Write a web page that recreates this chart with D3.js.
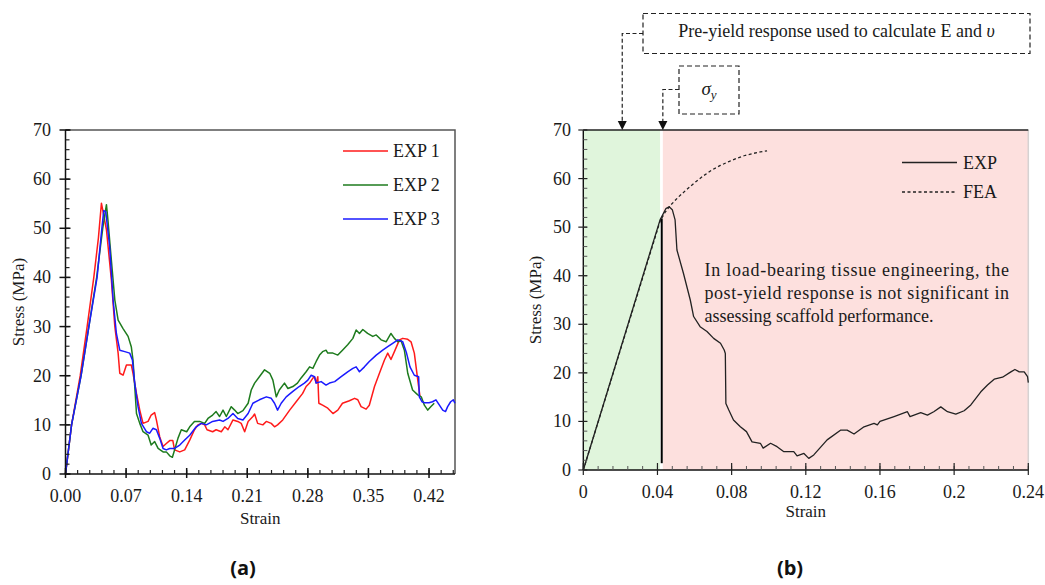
<!DOCTYPE html>
<html><head><meta charset="utf-8">
<script src="https://cdn.jsdelivr.net/npm/d3@7"></script>
<style>
html,body{margin:0;padding:0;background:#fff;}
</style></head>
<body><svg id="c" width="1045" height="585" font-family="Liberation Serif, DejaVu Serif, serif"></svg>
<script>
// ---------- DATA ----------
// Panel (a)
const xTicksA = [0, 0.07, 0.14, 0.21, 0.28, 0.35, 0.42];
const yTicksA = [0, 10, 20, 30, 40, 50, 60, 70];
const seriesNamesA = ["EXP 1", "EXP 2", "EXP 3"];
const exp1 = [[0,0],[0.007,10],[0.017,20],[0.025,30],[0.0327,40],[0.038,48],[0.0415,55.1],[0.0473,49.7],[0.053,39.5],[0.057,30],[0.0608,24.6],[0.0627,20.5],[0.0665,20.1],[0.0704,22.2],[0.076,22.2],[0.078,20.5],[0.082,16.4],[0.0858,13],[0.0896,10.3],[0.0954,10.7],[0.099,12],[0.103,12.5],[0.105,11],[0.1088,7.6],[0.1127,5.6],[0.1165,6.2],[0.1204,6.8],[0.124,6.8],[0.126,4.9],[0.132,4.5],[0.1377,4.9],[0.1435,6.9],[0.149,9],[0.153,10],[0.157,10.3],[0.1608,10],[0.1635,9],[0.17,8.6],[0.174,9],[0.18,8.6],[0.184,9.6],[0.1877,9],[0.1935,11],[0.199,10.7],[0.203,10.3],[0.207,8.6],[0.211,10.7],[0.2165,11.7],[0.2185,12.2],[0.222,10.3],[0.228,10],[0.232,10.7],[0.2377,10.3],[0.2415,9.6],[0.245,10],[0.251,11],[0.259,13],[0.2665,14.7],[0.274,16.4],[0.278,17.8],[0.282,18.5],[0.2858,19.5],[0.2877,19.8],[0.2896,18.5],[0.2915,19.8],[0.2927,14.4],[0.297,14],[0.303,13.4],[0.309,12.3],[0.3146,13],[0.32,14.4],[0.328,14.9],[0.334,15.4],[0.3377,15.1],[0.3415,13.7],[0.3473,13.2],[0.351,14],[0.357,17.8],[0.3627,20.5],[0.3685,23.2],[0.3723,24.6],[0.376,23.3],[0.38,24.9],[0.3858,27.3],[0.3896,27.6],[0.3954,27.4],[0.3992,26.9],[0.403,24.6],[0.407,19.1],[0.4096,15.7]];
const exp2 = [[0,0],[0.007,10],[0.018,20],[0.027,30],[0.036,40],[0.043,50],[0.0473,54.8],[0.049,51.7],[0.053,43.5],[0.057,35.4],[0.0608,31.3],[0.0665,29.6],[0.0723,28],[0.076,25.9],[0.078,23.2],[0.08,17.8],[0.082,12.3],[0.0858,10.3],[0.0896,8.6],[0.0954,7.9],[0.099,5.9],[0.103,6.6],[0.107,5.2],[0.1127,4.5],[0.1165,4.5],[0.1204,3.7],[0.1235,3.4],[0.126,4.9],[0.13,7.3],[0.1338,9],[0.14,8.6],[0.1435,9.6],[0.149,10.7],[0.155,10.7],[0.1608,10.3],[0.1646,11.3],[0.17,12],[0.174,12.7],[0.178,11.7],[0.182,13],[0.1858,11.7],[0.1915,13.7],[0.1954,13],[0.199,12.3],[0.205,12.9],[0.211,14.4],[0.2146,17.1],[0.2185,18.5],[0.224,19.8],[0.23,21.2],[0.236,20.5],[0.2396,19.1],[0.2435,15.7],[0.247,17.1],[0.253,18.5],[0.257,17.4],[0.2627,17.8],[0.268,18.5],[0.272,19.5],[0.278,20.8],[0.282,21.8],[0.2858,21.5],[0.2896,22.9],[0.2935,24.2],[0.297,24.9],[0.301,25.2],[0.303,24.6],[0.309,24.6],[0.3146,24.2],[0.32,25.2],[0.326,26.3],[0.332,27.6],[0.3358,29.3],[0.3396,28.6],[0.3435,29.4],[0.349,28.6],[0.355,28],[0.359,28.3],[0.3646,27.3],[0.3704,26.9],[0.376,28.6],[0.38,27.6],[0.384,26.9],[0.3877,27.1],[0.3915,25.2],[0.3954,20.5],[0.401,17.1],[0.407,16.1],[0.411,15.7],[0.4146,14],[0.4185,13],[0.422,13.7],[0.426,14.4]];
const exp3 = [[0,0],[0.007,10],[0.018,20],[0.027,30],[0.0365,40],[0.042,50],[0.0442,53.6],[0.0465,53.4],[0.051,46.3],[0.055,35.4],[0.0588,28.6],[0.0627,25.2],[0.0685,24.9],[0.0742,24.6],[0.0773,23.2],[0.08,18.5],[0.0838,13.7],[0.0877,10.3],[0.0935,8.6],[0.0973,8.3],[0.101,9.3],[0.105,9],[0.1088,7.3],[0.1127,5.2],[0.1165,4.9],[0.1204,5.2],[0.126,5.2],[0.132,5.9],[0.1377,6.9],[0.1435,7.9],[0.151,9.6],[0.157,10.3],[0.1627,10],[0.17,10.7],[0.178,11],[0.182,10.7],[0.1877,11.3],[0.1935,12.3],[0.199,11.3],[0.205,11],[0.211,12.3],[0.2165,14.4],[0.224,15.1],[0.232,15.7],[0.2377,15.4],[0.2415,14.4],[0.245,13],[0.2492,14.4],[0.255,15.7],[0.2627,16.8],[0.27,17.8],[0.276,18.5],[0.28,19.1],[0.2838,20.1],[0.2877,19.8],[0.2896,18.5],[0.2954,18.8],[0.301,18.1],[0.305,18.5],[0.311,18.8],[0.3185,19.8],[0.326,20.8],[0.332,21.5],[0.3358,21.8],[0.3396,20.8],[0.3454,21.8],[0.351,22.9],[0.359,24.2],[0.3665,25.2],[0.3723,25.9],[0.378,26.6],[0.384,27.3],[0.3896,26.9],[0.394,24.6],[0.398,21.8],[0.403,20.1],[0.408,19.8],[0.4088,15.7],[0.412,14.7],[0.4146,14.5],[0.42,14.5],[0.424,14.7],[0.428,15.1],[0.432,14],[0.4358,13],[0.439,12.7],[0.4415,13.7],[0.445,14.7],[0.448,15.1],[0.45,14.4]];
const coloursA = ["#ff1a1a", "#1e7b1e", "#1a1aff"];

// Panel (b)
const xTicksB = [0, 0.04, 0.08, 0.12, 0.16, 0.2, 0.24];
const xTickLabelsB = ["0", "0.04", "0.08", "0.12", "0.16", "0.2", "0.24"];
const yTicksB = [0, 10, 20, 30, 40, 50, 60, 70];
const seriesNamesB = ["EXP", "FEA"];
const expB = [[0,0],[0.0414,51.5],[0.0445,53.8],[0.0463,54.2],[0.048,53.6],[0.0495,51.5],[0.0505,45.3],[0.054,40.5],[0.0577,35],[0.0595,31.6],[0.063,29.5],[0.0667,28.5],[0.0703,27.1],[0.074,26.1],[0.076,24.7],[0.0766,24],[0.0769,13.7],[0.0784,12.4],[0.081,10.3],[0.0847,8.9],[0.088,7.9],[0.091,5.8],[0.0955,5.5],[0.097,4.5],[0.101,5.5],[0.1045,4.8],[0.108,3.8],[0.1135,3.8],[0.1153,2.9],[0.119,3.4],[0.1216,2.4],[0.1243,3.1],[0.1315,6.2],[0.1387,8.2],[0.1423,8.2],[0.146,7.4],[0.1514,8.9],[0.1568,9.6],[0.1586,9.3],[0.16,10],[0.1676,11],[0.1748,12],[0.1762,11],[0.182,11.8],[0.1856,11.3],[0.189,12],[0.1928,13],[0.1964,12],[0.2009,11.5],[0.2054,12.2],[0.209,13.4],[0.2144,16.1],[0.218,17.5],[0.2216,18.7],[0.2261,19.1],[0.2306,20.2],[0.2328,20.7],[0.2351,20.2],[0.2378,20.2],[0.2396,19.2],[0.24,18]];
const feaB = [[0,0],[0.0414,51.2],[0.0440,53.0],[0.0468,54.4],[0.0510,56.1],[0.0559,57.8],[0.0605,59.3],[0.0649,60.6],[0.0695,61.8],[0.0739,62.7],[0.0785,63.5],[0.0829,64.2],[0.0875,64.8],[0.0919,65.2],[0.0955,65.5],[0.0991,65.7]];
const preYieldEnd = 0.0414;   // end of green (pre-yield) zone
const postYieldStart = 0.0429; // start of red (post-yield) zone
const yieldStrain = 0.0423;    // vertical yield line
const yieldLine = [1.4, 51.8];
const arrowStrains = [0.021, 0.0429];
const annotationLines = ["In load-bearing tissue engineering, the", "post-yield response is not significant in", "assessing scaffold performance."];

// ---------- DRAW ----------
const svg = d3.select("#c");
const FS = 18;
const SERIF = "'Liberation Serif', 'Times New Roman', 'DejaVu Serif', serif";
function T(g) { return g.append("text").style("font-family", SERIF).attr("fill", "#1a1a1a"); }

// ===== Panel (a) =====
const A = {l: 65.5, r: 455, t: 130, b: 474};
const xa = d3.scaleLinear().domain([0, 0.45]).range([A.l, A.r]);
const ya = d3.scaleLinear().domain([0, 70]).range([A.b, A.t]);
const ga = svg.append("g");

ga.append("path").attr("d", `M${A.l},${A.t}H${A.r}V${A.b}`).attr("fill","none").attr("stroke","#555").attr("stroke-width",1.5);

const lineA = d3.line().x(d => xa(d[0])).y(d => ya(d[1]));
[exp1, exp2, exp3].forEach((s, i) => {
  ga.append("path").datum(s).attr("d", lineA).attr("fill","none")
    .attr("stroke", coloursA[i]).attr("stroke-width", 1.5).attr("stroke-linejoin","round");
});

ga.append("line").attr("x1",A.l).attr("x2",A.r).attr("y1",A.b).attr("y2",A.b).attr("stroke","#111").attr("stroke-width",1.5);
ga.append("line").attr("x1",A.l).attr("x2",A.l).attr("y1",A.t).attr("y2",A.b).attr("stroke","#111").attr("stroke-width",1.5);

const xMinorA = d3.range(0, 0.4501, 0.014);
ga.selectAll(".xmina").data(xMinorA).join("line")
  .attr("x1", d => xa(d)).attr("x2", d => xa(d)).attr("y1", A.b).attr("y2", A.b - 4)
  .attr("stroke","#222").attr("stroke-width",1.2);
ga.selectAll(".xmaja").data(xTicksA).join("line")
  .attr("x1", d => xa(d)).attr("x2", d => xa(d)).attr("y1", A.b + 4).attr("y2", A.b - 6)
  .attr("stroke","#111").attr("stroke-width",1.5);
xTicksA.forEach(d => {
  T(ga).attr("x", xa(d)).attr("y", 502).attr("text-anchor","middle").attr("font-size",FS).text(d.toFixed(2));
});
T(ga).attr("x", (A.l + A.r)/2).attr("y", 524).attr("text-anchor","middle").attr("font-size",17).text("Strain");

const yMinorA = d3.range(0, 70.01, 2);
ga.selectAll(".ymina").data(yMinorA).join("line")
  .attr("x1", A.l).attr("x2", A.l + 4).attr("y1", d => ya(d)).attr("y2", d => ya(d))
  .attr("stroke","#222").attr("stroke-width",1.2);
ga.selectAll(".ymaja").data(yTicksA).join("line")
  .attr("x1", A.l - 6).attr("x2", A.l + 5).attr("y1", d => ya(d)).attr("y2", d => ya(d))
  .attr("stroke","#111").attr("stroke-width",1.5);
yTicksA.forEach(d => {
  T(ga).attr("x", 51).attr("y", ya(d) + 6).attr("text-anchor","end").attr("font-size",FS).text(d);
});
T(ga).attr("transform", `translate(24,${(A.t + A.b)/2}) rotate(-90)`)
  .attr("text-anchor","middle").attr("font-size",17).text("Stress (MPa)");

seriesNamesA.forEach((n, i) => {
  const y = 151 + i * 34;
  ga.append("line").attr("x1", 343).attr("x2", 388).attr("y1", y).attr("y2", y)
    .attr("stroke", coloursA[i]).attr("stroke-width", 1.5);
  T(ga).attr("x", 393).attr("y", y + 6).attr("font-size", FS).text(n);
});

ga.append("text").attr("x", 243).attr("y", 575).attr("text-anchor","middle").attr("fill","#111")
  .style("font-family","'Open Sans',sans-serif").style("font-weight","bold").attr("font-size",20).text("(a)");

// ===== Panel (b) =====
const B = {l: 583.3, r: 1028.3, t: 130, b: 470};
const xb = d3.scaleLinear().domain([0, 0.24]).range([B.l, B.r]);
const yb = d3.scaleLinear().domain([0, 70]).range([B.b, B.t]);
const gb = svg.append("g");

gb.append("rect").attr("x", xb(0)).attr("y", B.t).attr("width", xb(preYieldEnd) - xb(0)).attr("height", B.b - B.t).attr("fill", "#e0f5dc");
gb.append("rect").attr("x", xb(postYieldStart)).attr("y", B.t).attr("width", xb(0.24) - xb(postYieldStart)).attr("height", B.b - B.t).attr("fill", "#fde0de");
gb.append("line").attr("x1", B.r).attr("x2", B.r).attr("y1", B.t).attr("y2", B.b).attr("stroke","#d6d2d2").attr("stroke-width",1.5);

gb.append("line").attr("x1", B.l).attr("x2", B.r).attr("y1", B.t).attr("y2", B.t).attr("stroke","#222").attr("stroke-width",1.3);

const lineB = d3.line().x(d => xb(d[0])).y(d => yb(d[1]));
gb.append("path").datum(feaB).attr("d", lineB).attr("fill","none")
  .attr("stroke","#222").attr("stroke-width",1.3).attr("stroke-dasharray","3,2.5");
gb.append("path").datum(expB).attr("d", lineB).attr("fill","none")
  .attr("stroke","#222").attr("stroke-width",1.3).attr("stroke-linejoin","round");

gb.append("line").attr("x1", xb(yieldStrain)).attr("x2", xb(yieldStrain)).attr("y1", yb(yieldLine[0])).attr("y2", yb(yieldLine[1]))
  .attr("stroke","#000").attr("stroke-width",2);

gb.append("line").attr("x1",B.l).attr("x2",B.r).attr("y1",B.b).attr("y2",B.b).attr("stroke","#111").attr("stroke-width",1.4);
gb.append("line").attr("x1",B.l).attr("x2",B.l).attr("y1",B.t).attr("y2",B.b).attr("stroke","#111").attr("stroke-width",1.4);

const xMinorB = d3.range(0, 0.2401, 0.008);
gb.selectAll(".xminb").data(xMinorB).join("line")
  .attr("x1", d => xb(d)).attr("x2", d => xb(d)).attr("y1", B.b).attr("y2", B.b - 4)
  .attr("stroke","#555").attr("stroke-width",1);
gb.selectAll(".xmajb").data(xTicksB).join("line")
  .attr("x1", d => xb(d)).attr("x2", d => xb(d)).attr("y1", B.b + 5).attr("y2", B.b - 7)
  .attr("stroke","#222").attr("stroke-width",1.2);
xTicksB.forEach((d, i) => {
  T(gb).attr("x", xb(d)).attr("y", 498).attr("text-anchor","middle").attr("font-size",FS).text(xTickLabelsB[i]);
});
T(gb).attr("x", (B.l + B.r)/2).attr("y", 517).attr("text-anchor","middle").attr("font-size",17).text("Strain");

const yMinorB = d3.range(0, 70.01, 2);
gb.selectAll(".yminb").data(yMinorB).join("line")
  .attr("x1", B.l).attr("x2", B.l + 4).attr("y1", d => yb(d)).attr("y2", d => yb(d))
  .attr("stroke","#555").attr("stroke-width",1);
gb.selectAll(".ymajb").data(yTicksB).join("line")
  .attr("x1", B.l - 5).attr("x2", B.l + 4).attr("y1", d => yb(d)).attr("y2", d => yb(d))
  .attr("stroke","#222").attr("stroke-width",1.2);
yTicksB.forEach(d => {
  T(gb).attr("x", 571).attr("y", yb(d) + 6).attr("text-anchor","end").attr("font-size",FS).text(d);
});
T(gb).attr("transform", `translate(541,${(B.t + B.b)/2}) rotate(-90)`)
  .attr("text-anchor","middle").attr("font-size",17).text("Stress (MPa)");

gb.append("line").attr("x1", 902).attr("x2", 957).attr("y1", 162.5).attr("y2", 162.5).attr("stroke","#222").attr("stroke-width",1.3);
T(gb).attr("x", 963).attr("y", 168.5).attr("font-size", FS).text(seriesNamesB[0]);
gb.append("line").attr("x1", 902).attr("x2", 957).attr("y1", 192).attr("y2", 192).attr("stroke","#222").attr("stroke-width",1.3).attr("stroke-dasharray","3,2.5");
T(gb).attr("x", 963).attr("y", 198).attr("font-size", FS).text(seriesNamesB[1]);

annotationLines.forEach((t, i) => {
  const tx = T(gb).attr("x", 704.5).attr("y", 276 + i * 22.8).attr("font-size", FS).text(t);
  if (i < annotationLines.length - 1) tx.attr("textLength", 304.5).attr("lengthAdjust", "spacing");
});

const dash = "5,3";
gb.append("rect").attr("x", 643).attr("y", 13.5).attr("width", 387).attr("height", 40)
  .attr("fill","none").attr("stroke","#222").attr("stroke-width",1.2).attr("stroke-dasharray",dash);
const t1 = T(gb).attr("x", 836.5).attr("y", 37).attr("text-anchor","middle").attr("font-size",FS);
t1.append("tspan").text("Pre-yield response used to calculate E and ");
t1.append("tspan").style("font-style","italic").text("υ");
gb.append("rect").attr("x", 679).attr("y", 66).attr("width", 60).attr("height", 48)
  .attr("fill","none").attr("stroke","#222").attr("stroke-width",1.2).attr("stroke-dasharray",dash);
const t2 = T(gb).attr("x", 709).attr("y", 95).attr("text-anchor","middle").attr("font-size",19).style("font-style","italic");
t2.append("tspan").text("σ");
t2.append("tspan").attr("font-size",13).attr("dy",4).text("y");

const connY = [33.5, 89.5];
const boxLeft = [643, 679];
arrowStrains.forEach((s, i) => {
  const x = xb(s);
  gb.append("path").attr("d", `M${boxLeft[i]},${connY[i]}H${x}V${B.t - 8}`)
    .attr("fill","none").attr("stroke","#222").attr("stroke-width",1.2).attr("stroke-dasharray","4,2.5");
  gb.append("path").attr("d", `M${x - 4.5},${B.t - 9}L${x + 4.5},${B.t - 9}L${x},${B.t}Z`).attr("fill","#111");
});

gb.append("text").attr("x", 790).attr("y", 575).attr("text-anchor","middle").attr("fill","#111")
  .style("font-family","'Open Sans',sans-serif").style("font-weight","bold").attr("font-size",20).text("(b)");
</script></body></html>
